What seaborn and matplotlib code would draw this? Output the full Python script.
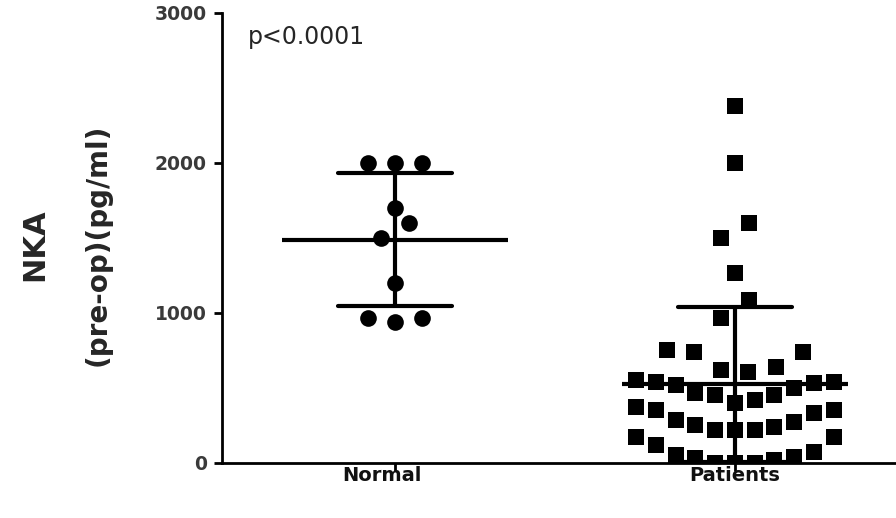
import matplotlib
matplotlib.use("Agg")
import matplotlib.pyplot as plt
import matplotlib.transforms as mtransforms
import seaborn as sns
import numpy as np
import pandas as pd

# NKA (pre-op) concentrations, pg/ml
groups = ["Normal", "Patients"]
normal_vals = [2000, 2000, 2000, 1700, 1600, 1500, 1200, 970, 940, 970]
patient_vals = [
    2380, 2000, 1600, 1500, 1270, 1090, 970,
    753, 740, 740, 640, 620, 607,
    553, 540, 520, 467, 453, 400, 420, 453, 500, 533, 540,
    353, 333, 273, 240, 220, 220, 220, 253, 287, 353, 373,
    173, 120, 53, 33, 0, 0, 0, 20, 40, 73, 173,
]
y_ticks = [0, 1000, 2000, 3000]
p_text = "p<0.0001"


def binned_offsets(values, bin_size, origin=0.0, max_step=0.08, width=0.64,
                   pair_gap=130, pair_shift=0.042, first_right=True):
    """Column-scatter layout: values are binned, and inside a bin the points
    are spread sideways, smallest in the middle, alternating right/left.
    Lone points that sit too close to another lone point are nudged apart."""
    vals = np.asarray(values, dtype=float)
    offsets = np.zeros(len(vals))
    bins = np.floor((vals + origin) / bin_size)
    side = 1 if first_right else -1
    singles = []
    for b in np.unique(bins):
        idx = np.where(bins == b)[0]
        idx = idx[np.argsort(vals[idx], kind="stable")]
        n = len(idx)
        if n == 1:
            singles.append(idx[0])
            continue
        step = min(max_step, width / n)
        for k, i in enumerate(idx):
            if n % 2:
                slot = ((k + 1) // 2) * (1 if k % 2 else -1)
            else:
                slot = (k // 2 + 0.5) * (1 if k % 2 == 0 else -1)
            offsets[i] = side * slot * step
    singles = sorted(singles, key=lambda i: vals[i])
    k = 0
    while k < len(singles) - 1:
        a, b = singles[k], singles[k + 1]
        if vals[b] - vals[a] < pair_gap:
            offsets[a], offsets[b] = -pair_shift, pair_shift
            k += 2
        else:
            k += 1
    return offsets


df = pd.DataFrame({
    "group": ["Normal"] * len(normal_vals) + ["Patients"] * len(patient_vals),
    "value": normal_vals + patient_vals,
})
df["pos"] = df["group"].map({g: i for i, g in enumerate(groups)}).astype(float)
df.loc[df.group == "Normal", "pos"] += binned_offsets(normal_vals, 200, origin=100,
                                                      first_right=False)
df.loc[df.group == "Patients", "pos"] += binned_offsets(patient_vals, 200)

sns.set_theme(style="ticks")
plt.rcParams["font.family"] = ["DejaVu Sans"]

fig = plt.figure(figsize=(8.96, 5.18), dpi=100)
ax = fig.add_axes([222 / 896, 55 / 518, (896 - 222) / 896, 450 / 518])

# mean line with +/- SD error bars
sns.pointplot(data=df, x="group", y="value", order=groups, errorbar="sd",
              estimator="mean", color="black", linestyle="none", marker="_",
              markersize=163, markeredgewidth=3, capsize=0.335,
              err_kws={"linewidth": 3}, ax=ax, zorder=5)

# individual points: circles for controls, squares for patients
sns.scatterplot(data=df[df.group == "Normal"], x="pos", y="value", marker="o",
                color="black", s=144, linewidth=0, ax=ax, zorder=4)
sns.scatterplot(data=df[df.group == "Patients"], x="pos", y="value", marker="s",
                color="black", s=144, linewidth=0, ax=ax, zorder=4)

ax.set_ylim(0, 3000)
ax.set_xlim(-0.509, 1.474)
ax.set_yticks(y_ticks)
ax.set_yticklabels([str(t) for t in y_ticks], fontsize=13.5, fontweight="bold",
                   color="#3a3a3a")
ax.set_xticks([0, 1])
ax.set_xticklabels(groups, fontsize=14, fontweight="bold", color="#111111")
ax.set_xlabel("")
ax.set_ylabel("")
sns.despine(ax=ax)
for side in ("left", "bottom"):
    ax.spines[side].set_linewidth(2)
    ax.spines[side].set_color("black")
ax.tick_params(axis="both", length=6, width=2, color="black")
ax.tick_params(axis="y", pad=5)
ax.tick_params(axis="x", pad=-4)

# the "Normal" label sits a little left of its tick
normal_label = ax.get_xticklabels()[0]
normal_label.set_transform(normal_label.get_transform()
                           + mtransforms.ScaledTranslation(-0.13, 0, fig.dpi_scale_trans))

fig.text(35 / 896, 1 - 245 / 518, "NKA", rotation=90, ha="center", va="center",
         fontsize=22, fontweight="bold")
fig.text(98 / 896, 1 - 245 / 518, "(pre-op)(pg/ml)", rotation=90, ha="center",
         va="center", fontsize=20, fontweight="bold")
fig.text(248 / 896, 1 - 37 / 518, p_text, ha="left", va="center", fontsize=17)

fig.savefig("out.png", dpi=100)
